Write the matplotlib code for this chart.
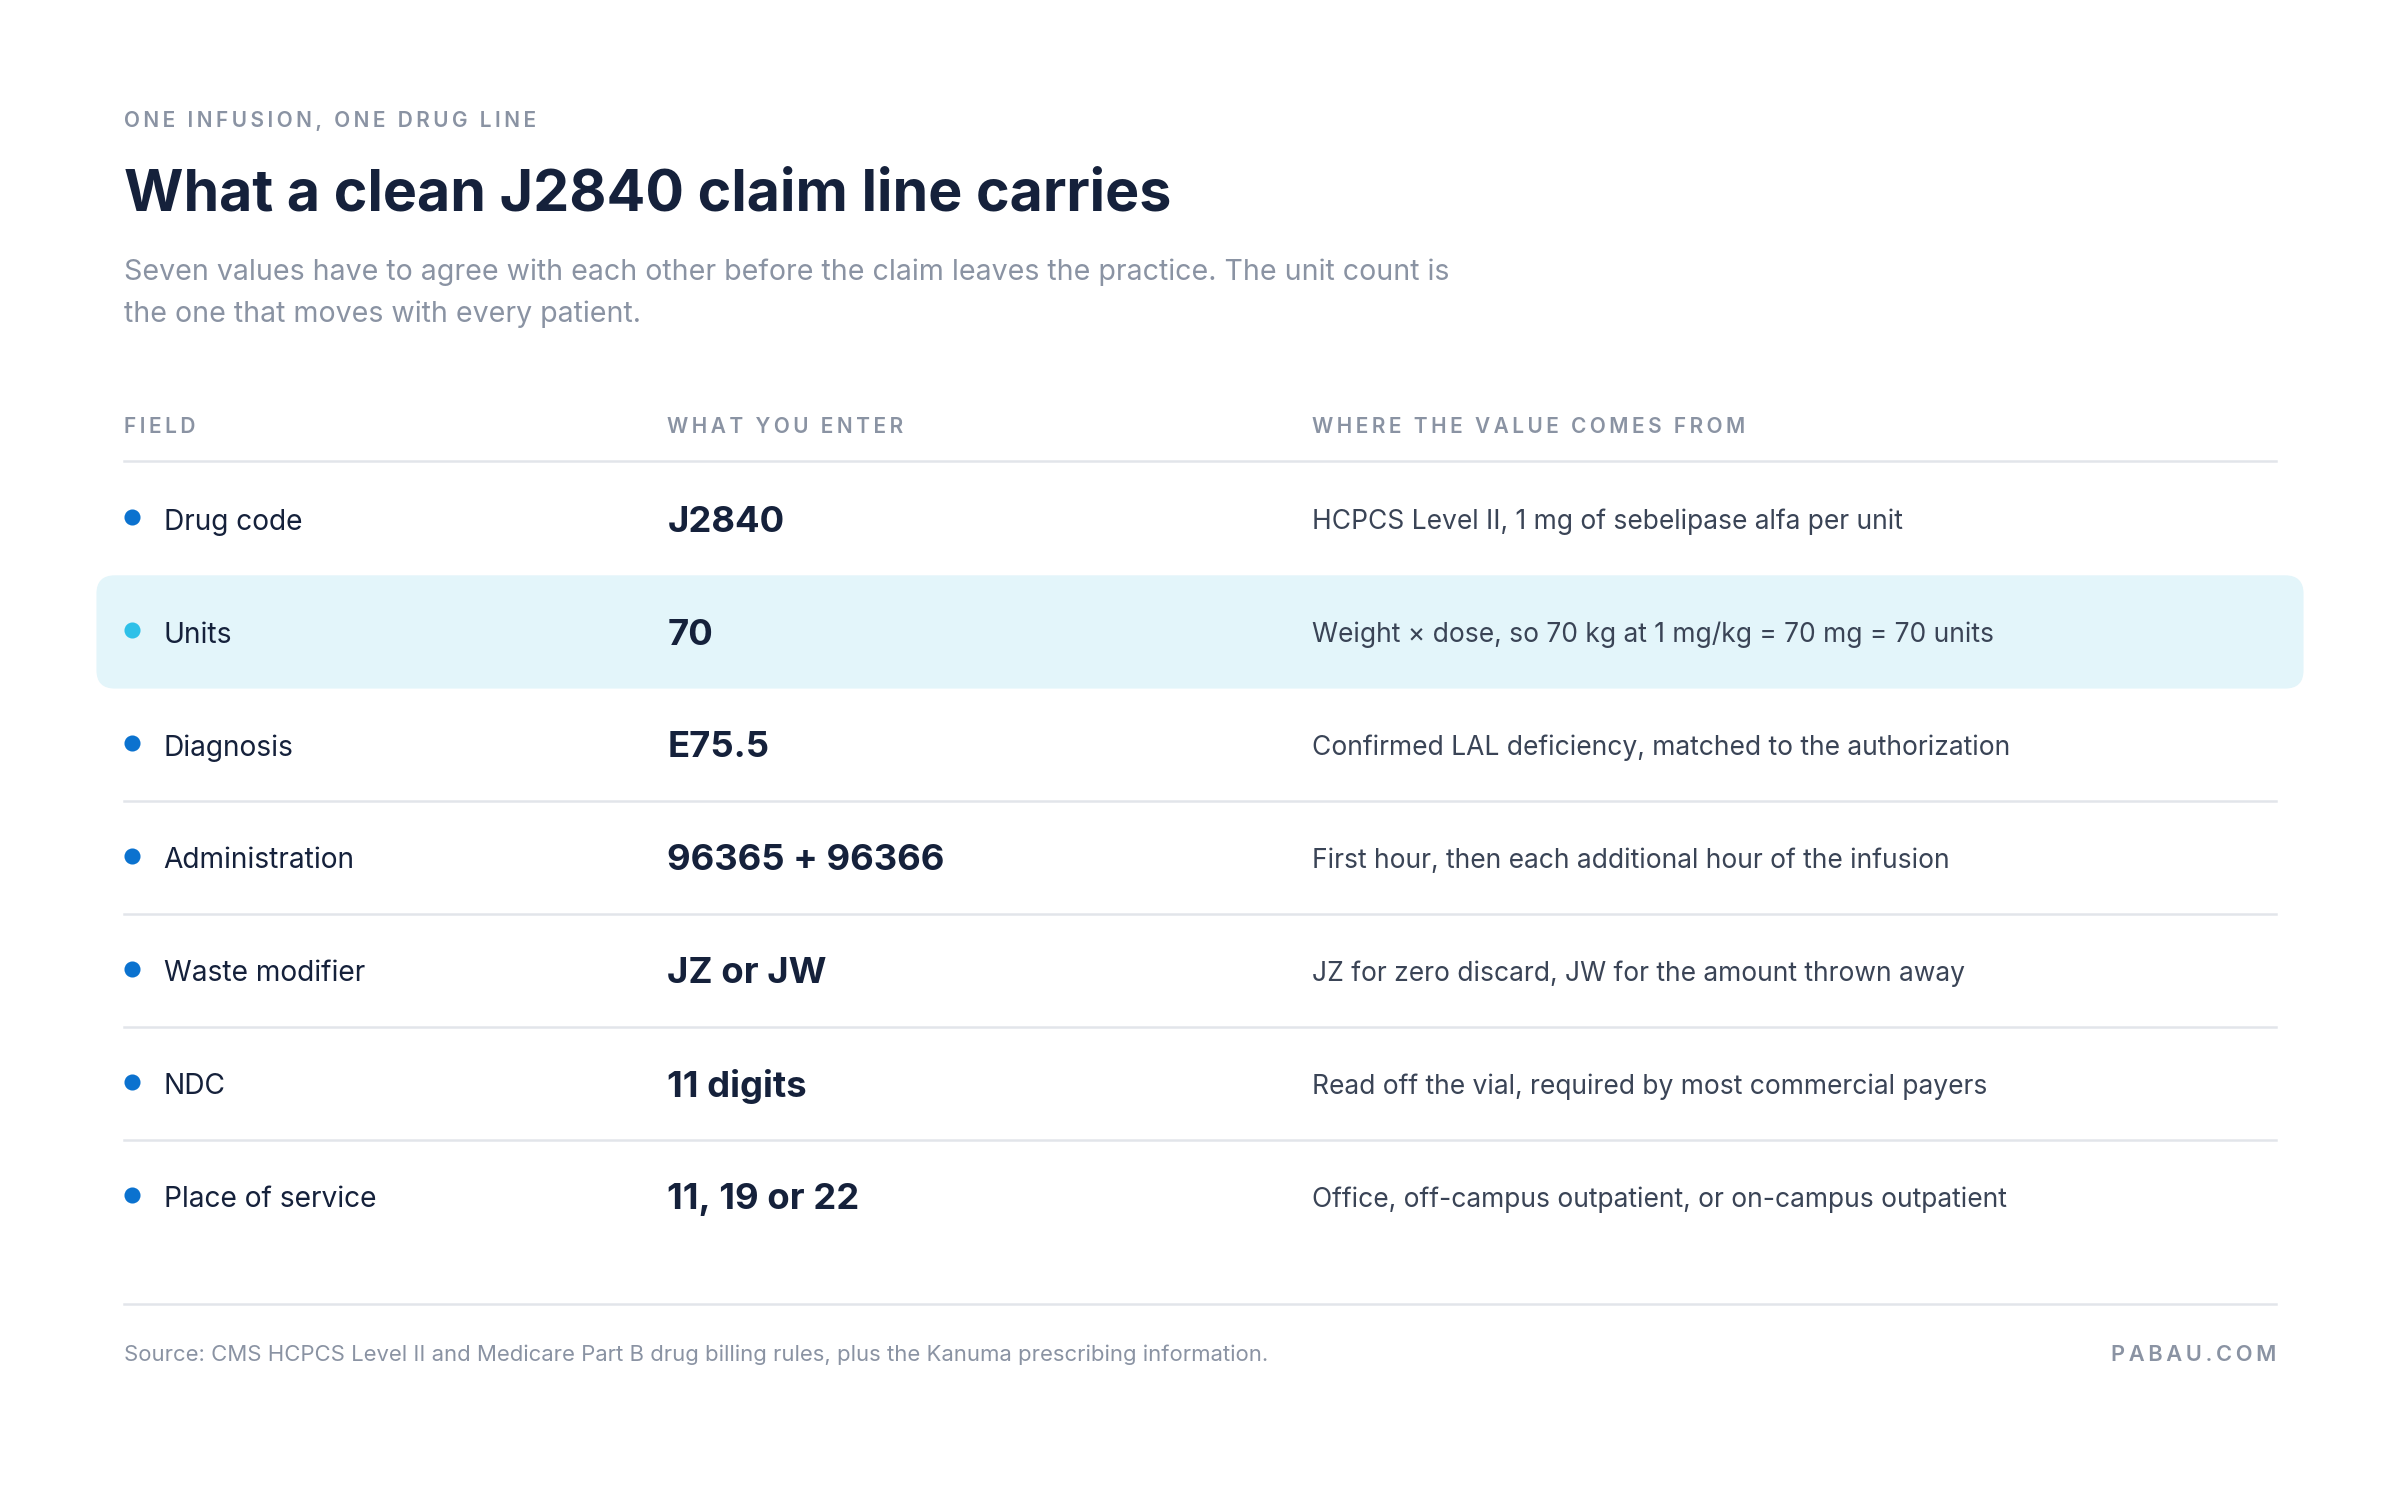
import matplotlib
matplotlib.use("Agg")
import matplotlib.pyplot as plt
from matplotlib.patches import FancyBboxPatch

fields = ["Drug code", "Units", "Diagnosis", "Administration", "Waste modifier", "NDC", "Place of service"]
entries = ["J2840", "70", "E75.5", "96365 + 96366", "JZ or JW", "11 digits", "11, 19 or 22"]
sources = [
    "HCPCS Level II, 1 mg of sebelipase alfa per unit",
    "Weight × dose, so 70 kg at 1 mg/kg = 70 mg = 70 units",
    "Confirmed LAL deficiency, matched to the authorization",
    "First hour, then each additional hour of the infusion",
    "JZ for zero discard, JW for the amount thrown away",
    "Read off the vial, required by most commercial payers",
    "Office, off-campus outpatient, or on-campus outpatient",
]
headers = ["FIELD", "WHAT YOU ENTER", "WHERE THE VALUE COMES FROM"]
highlight = 1

plt.rcParams['font.family'] = ['Inter', 'DejaVu Sans']
W, H = 1568, 972
fig = plt.figure(figsize=(16, 9.92), dpi=150)
ax = fig.add_axes([0, 0, 1, 1])
ax.set_xlim(0, W); ax.set_ylim(H, 0); ax.axis('off')

navy = "#15213b"; grey = "#8a93a3"; line = "#e2e5ea"
def spaced(s): return "\u2009".join(s)

ax.text(81, 79, spaced("ONE INFUSION, ONE DRUG LINE"), fontsize=10, color=grey, weight='semibold', va='center')
ax.text(81, 128, "What a clean J2840 claim line carries", fontsize=27.5, color=navy, weight='bold', va='center')
ax.text(81, 178, "Seven values have to agree with each other before the claim leaves the practice. The unit count is",
        fontsize=13.7, color=grey, va='center')
ax.text(81, 205, "the one that moves with every patient.", fontsize=13.7, color=grey, va='center')

hx = [81, 436, 857]
for x, h in zip(hx, headers):
    ax.text(x, 279, spaced(h), fontsize=10, color=grey, weight='semibold', va='center')
ax.plot([81, 1487], [301, 301], color=line, lw=1.2)

row0, dy = 339, 73.8
for i, (f, e, s) in enumerate(zip(fields, entries, sources)):
    y = row0 + i * dy
    if i == highlight:
        ax.add_patch(FancyBboxPatch((63, y - 37), 1442, 74, boxstyle="round,pad=0,rounding_size=12",
                                    fc="#e3f5fa", ec="none", zorder=0))
    ax.scatter([86], [y - 1], s=45, color="#2ec0e8" if i == highlight else "#0b72cf", zorder=3)
    ax.text(107, y + 2, f, fontsize=13.5, color=navy, va='center')
    ax.text(436, y + 2, e, fontsize=17.5, color=navy, weight='bold', va='center')
    ax.text(857, y + 2, s, fontsize=12.7, color="#3a4456", va='center')
    if i < len(fields) - 1 and i != highlight and i + 1 != highlight:
        ax.plot([81, 1487], [y + dy / 2, y + dy / 2], color=line, lw=1.2)

ax.plot([81, 1487], [852, 852], color=line, lw=1.2)
ax.text(81, 885, "Source: CMS HCPCS Level II and Medicare Part B drug billing rules, plus the Kanuma prescribing information.",
        fontsize=10.6, color=grey, va='center')
ax.text(1487, 885, spaced("PABAU.COM"), fontsize=10.5, color=grey, weight='semibold', va='center', ha='right')

fig.savefig("out.png", dpi=150, facecolor="white")
